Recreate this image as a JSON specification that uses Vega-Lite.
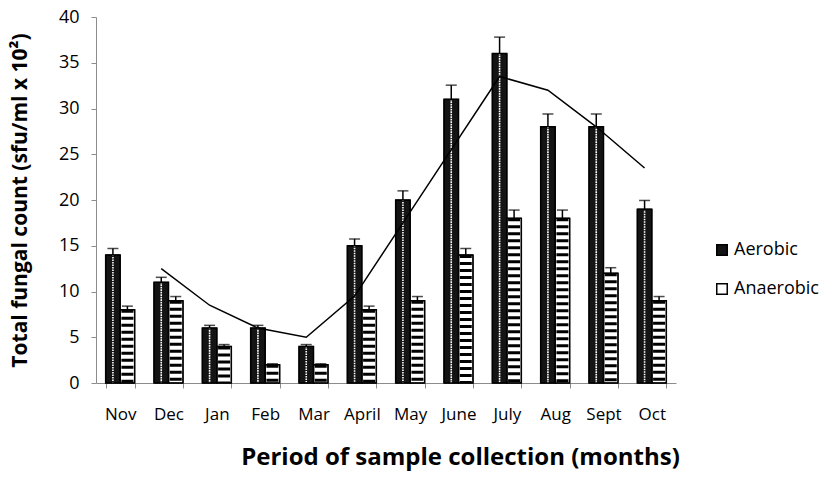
{
  "$schema": "https://vega.github.io/schema/vega-lite/v6.json",
  "width": 580,
  "height": 366,
  "autosize": {"type": "none"},
  "padding": {"left": 96, "top": 17, "right": 164, "bottom": 98},
  "background": "white",
  "config": {
    "view": {"stroke": null},
    "font": "Open Sans",
    "axis": {
      "labelFont": "Open Sans",
      "labelFontSize": 17,
      "labelColor": "#000",
      "titleFont": "Open Sans",
      "titleColor": "#000",
      "domainColor": "#8c8c8c",
      "tickColor": "#8c8c8c",
      "grid": false
    }
  },
  "data": {
    "values": [
      {"month": "Nov", "series": "Aerobic", "value": 14, "upper": 14.7, "trend": null},
      {"month": "Nov", "series": "Anaerobic", "value": 8, "upper": 8.4, "trend": null},
      {"month": "Dec", "series": "Aerobic", "value": 11, "upper": 11.55, "trend": 12.5},
      {"month": "Dec", "series": "Anaerobic", "value": 9, "upper": 9.45, "trend": null},
      {"month": "Jan", "series": "Aerobic", "value": 6, "upper": 6.3, "trend": 8.5},
      {"month": "Jan", "series": "Anaerobic", "value": 4, "upper": 4.2, "trend": null},
      {"month": "Feb", "series": "Aerobic", "value": 6, "upper": 6.3, "trend": 6},
      {"month": "Feb", "series": "Anaerobic", "value": 2, "upper": 2.1, "trend": null},
      {"month": "Mar", "series": "Aerobic", "value": 4, "upper": 4.2, "trend": 5},
      {"month": "Mar", "series": "Anaerobic", "value": 2, "upper": 2.1, "trend": null},
      {"month": "April", "series": "Aerobic", "value": 15, "upper": 15.75, "trend": 9.5},
      {"month": "April", "series": "Anaerobic", "value": 8, "upper": 8.4, "trend": null},
      {"month": "May", "series": "Aerobic", "value": 20, "upper": 21, "trend": 17.5},
      {"month": "May", "series": "Anaerobic", "value": 9, "upper": 9.45, "trend": null},
      {"month": "June", "series": "Aerobic", "value": 31, "upper": 32.55, "trend": 25.5},
      {"month": "June", "series": "Anaerobic", "value": 14, "upper": 14.7, "trend": null},
      {"month": "July", "series": "Aerobic", "value": 36, "upper": 37.8, "trend": 33.5},
      {"month": "July", "series": "Anaerobic", "value": 18, "upper": 18.9, "trend": null},
      {"month": "Aug", "series": "Aerobic", "value": 28, "upper": 29.4, "trend": 32},
      {"month": "Aug", "series": "Anaerobic", "value": 18, "upper": 18.9, "trend": null},
      {"month": "Sept", "series": "Aerobic", "value": 28, "upper": 29.4, "trend": 28},
      {"month": "Sept", "series": "Anaerobic", "value": 12, "upper": 12.6, "trend": null},
      {"month": "Oct", "series": "Aerobic", "value": 19, "upper": 19.95, "trend": 23.5},
      {"month": "Oct", "series": "Anaerobic", "value": 9, "upper": 9.45, "trend": null}
    ]
  },
  "encoding": {
    "x": {
      "field": "month",
      "type": "nominal",
      "sort": null,
      "scale": {"paddingInner": 0.4, "paddingOuter": 0.2},
      "axis": {
        "labelAngle": 0,
        "tickBand": "extent",
        "tickSize": 5,
        "labelPadding": 18,
        "labelFontSize": 17,
        "title": "Period of sample collection (months)",
        "titleFontSize": 24,
        "titleFontWeight": "bold",
        "titleX": 364,
        "titleY": 74,
        "titleAnchor": "middle",
        "titleBaseline": "middle"
      }
    },
    "xOffset": {"field": "series", "type": "nominal", "scale": {"domain": ["Aerobic", "Anaerobic"], "paddingInner": 0, "paddingOuter": 0}},
    "y": {
      "field": "value",
      "type": "quantitative",
      "scale": {"domain": [0, 40], "nice": false},
      "axis": {
        "values": [0, 5, 10, 15, 20, 25, 30, 35, 40],
        "tickSize": 5,
        "labelFontSize": 18,
        "labelPadding": 12,
        "title": "Total fungal count (sfu/ml x 10²)",
        "titleFontSize": 21,
        "titleFontWeight": "bold",
        "titlePadding": 28
      }
    }
  },
  "layer": [
    {
      "mark": {"type": "bar", "stroke": "#000", "strokeWidth": 1},
      "encoding": {
        "fill": {
          "field": "series",
          "type": "nominal",
          "scale": {"domain": ["Aerobic", "Anaerobic"], "range": ["#141414", "#ffffff"]},
          "legend": {
            "title": null,
            "orient": "none",
            "legendX": 617,
            "legendY": 224,
            "symbolType": "square",
            "symbolSize": 110,
            "symbolStrokeColor": "#000",
            "symbolStrokeWidth": 1.5,
            "labelFont": "Open Sans",
            "labelFontSize": 18,
            "labelColor": "#000",
            "rowPadding": 21,
            "labelOffset": 3
          }
        }
      }
    },
    {
      "transform": [{"filter": "datum.series === 'Anaerobic'"}],
      "mark": {"type": "rule", "color": "#000", "strokeWidth": 12, "strokeDash": [3, 4], "strokeCap": "butt"},
      "encoding": {"y2": {"datum": 0}}
    },
    {
      "transform": [{"filter": "datum.series === 'Aerobic'"}],
      "mark": {"type": "rule", "color": "#ffffff", "strokeWidth": 1.6, "strokeDash": [1.6, 3.4], "strokeDashOffset": -2, "xOffset": -3.5, "strokeCap": "butt"},
      "encoding": {"y2": {"datum": 0}}
    },
    {
      "transform": [{"filter": "datum.series === 'Aerobic'"}],
      "mark": {"type": "rule", "color": "#ffffff", "strokeWidth": 1.6, "strokeDash": [1.6, 3.4], "strokeDashOffset": 0.5, "xOffset": 3.5, "strokeCap": "butt"},
      "encoding": {"y2": {"datum": 0}}
    },
    {
      "mark": {"type": "bar", "fillOpacity": 0, "stroke": "#000", "strokeWidth": 1.5}
    },
    {
      "mark": {"type": "rule", "color": "#000", "strokeWidth": 1.5},
      "encoding": {"y2": {"field": "upper"}}
    },
    {
      "mark": {"type": "tick", "color": "#000", "thickness": 1.5, "size": 11},
      "encoding": {"y": {"field": "upper", "type": "quantitative"}}
    },
    {
      "transform": [{"filter": "datum.trend != null"}],
      "mark": {"type": "line", "color": "#000", "strokeWidth": 1.5},
      "encoding": {"y": {"field": "trend", "type": "quantitative"}}
    }
  ]
}
